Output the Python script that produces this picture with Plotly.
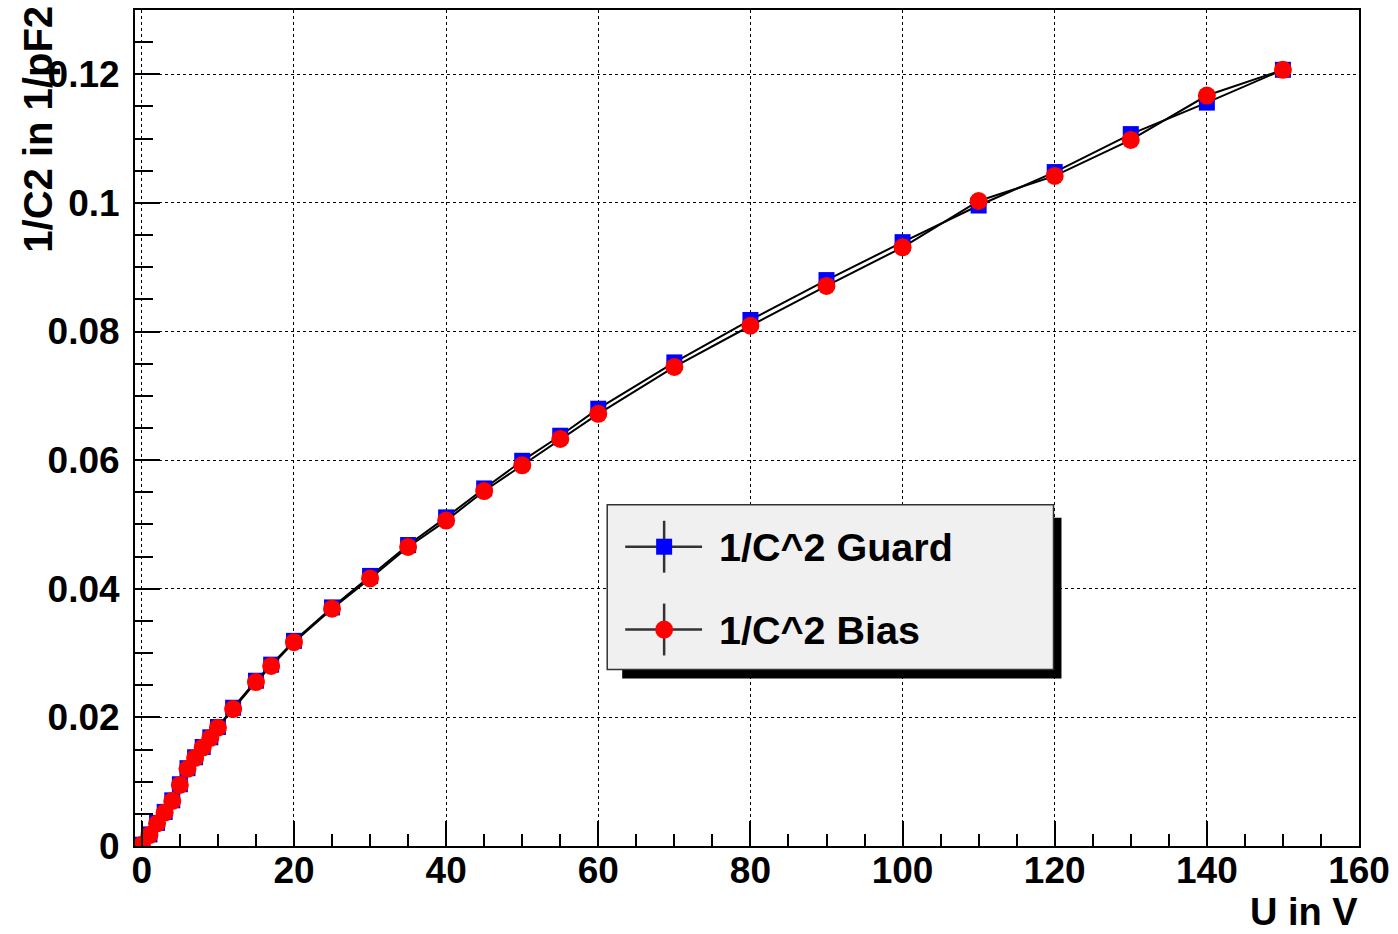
import plotly.graph_objects as go

# ---- data ----
voltage = [0, 1, 2, 3, 4, 5, 6, 7, 8, 9, 10, 12, 15, 17, 20, 25, 30, 35, 40, 45,
           50, 55, 60, 70, 80, 90, 100, 110, 120, 130, 140, 150]
guard = [0.0002, 0.0018, 0.0036, 0.0053, 0.0071, 0.0096, 0.0121, 0.0138, 0.0154,
         0.0169, 0.0185, 0.0215, 0.0257, 0.0282, 0.0319, 0.0371, 0.0420, 0.0468,
         0.0511, 0.0556, 0.0599, 0.0638, 0.0680, 0.0752, 0.0818, 0.0880, 0.0939,
         0.0996, 0.1048, 0.1107, 0.1156, 0.1207]
bias = [0.0002, 0.0017, 0.0035, 0.0052, 0.0070, 0.0095, 0.0120, 0.0137, 0.0153,
        0.0168, 0.0184, 0.0213, 0.0255, 0.0280, 0.0317, 0.0369, 0.0416, 0.0465,
        0.0506, 0.0552, 0.0592, 0.0633, 0.0672, 0.0745, 0.0809, 0.0871, 0.0931,
        0.1003, 0.1042, 0.1098, 0.1167, 0.1207]
series_names = ["1/C^2 Guard", "1/C^2 Bias"]
x_title = "U in V"
y_title = "1/C2 in 1/pF2"

FONT = "Liberation Sans, Arial, Helvetica, sans-serif"
W, H = 1398, 934
L, R, T, B = 135, 37, 8, 88
PW, PH = W - L - R, H - T - B


def px(xp):
    return (xp - L) / PW


def py(yp):
    return (H - B - yp) / PH


fig = go.Figure()
fig.add_trace(go.Scatter(
    x=voltage, y=guard, name=series_names[0], mode="lines+markers",
    line=dict(color="black", width=2),
    marker=dict(symbol="square", size=16, color="#0000ff", line=dict(width=0)),
    showlegend=False))
fig.add_trace(go.Scatter(
    x=voltage, y=bias, name=series_names[1], mode="lines+markers",
    line=dict(color="black", width=2),
    marker=dict(symbol="circle", size=18, color="#ff0000", line=dict(width=0)),
    showlegend=False))

tickfont = dict(family=FONT, size=37, color="black", weight="bold")

fig.update_xaxes(
    range=[-0.9, 160], tickmode="linear", tick0=0, dtick=20,
    ticks="inside", ticklen=25, tickwidth=1.5, tickcolor="black",
    minor=dict(dtick=5, ticks="inside", ticklen=12, tickwidth=1.5, tickcolor="black", showgrid=False),
    showgrid=True, gridcolor="black", griddash="dot", gridwidth=1.3,
    zeroline=False, showline=True, linecolor="black", linewidth=2, mirror=True,
    tickfont=tickfont, ticklabelstandoff=-9)
fig.update_yaxes(
    range=[0, 0.13], tickmode="linear", tick0=0, dtick=0.02,
    tickformat="~g",
    ticks="inside", ticklen=25, tickwidth=1.5, tickcolor="black",
    minor=dict(dtick=0.005, ticks="inside", ticklen=18, tickwidth=1.5, tickcolor="black", showgrid=False),
    showgrid=True, gridcolor="black", griddash="dot", gridwidth=1.3,
    zeroline=False, showline=True, linecolor="black", linewidth=2, mirror=True,
    tickfont=tickfont, ticklabelstandoff=6)

shapes = []
annotations = []
# legend shadow and box
shapes.append(dict(type="rect", xref="paper", yref="paper",
                   x0=px(623), x1=px(1063), y0=py(517), y1=py(678),
                   fillcolor="black", line=dict(width=0), layer="above"))
shapes.append(dict(type="rect", xref="paper", yref="paper",
                   x0=px(608), x1=px(1055), y0=py(504), y1=py(669),
                   fillcolor="#f0f0f0", line=dict(color="#333333", width=1.5), layer="above"))
entry_y = [546, 629]
symbols = [("rect", "#0000ff", 16), ("circle", "#ff0000", 18)]
for name, ey, (stype, col, sz) in zip(series_names, entry_y, symbols):
    shapes.append(dict(type="line", xref="paper", yref="paper",
                       x0=px(626), x1=px(703), y0=py(ey), y1=py(ey),
                       line=dict(color="#333333", width=2.5), layer="above"))
    shapes.append(dict(type="line", xref="paper", yref="paper",
                       x0=px(665), x1=px(665), y0=py(ey - 26), y1=py(ey + 26),
                       line=dict(color="#333333", width=2.5), layer="above"))
    shapes.append(dict(type=stype, xref="paper", yref="paper",
                       xsizemode="pixel", ysizemode="pixel",
                       xanchor=px(665), yanchor=py(ey),
                       x0=-sz / 2, x1=sz / 2, y0=-sz / 2, y1=sz / 2,
                       fillcolor=col, line=dict(width=0), layer="above"))
    annotations.append(dict(text=name, xref="paper", yref="paper",
                            x=px(718), y=py(ey), xanchor="left", yanchor="middle",
                            showarrow=False,
                            font=dict(family=FONT, size=39.5, color="black", weight="bold")))

# axis titles
annotations.append(dict(text=x_title, xref="paper", yref="paper",
                        x=px(1362), y=py(912), xanchor="right", yanchor="middle",
                        showarrow=False,
                        font=dict(family=FONT, size=38, color="black", weight="bold")))
annotations.append(dict(text=y_title, xref="paper", yref="paper",
                        x=px(37), y=py(2), xanchor="center", yanchor="top",
                        textangle=-90, showarrow=False,
                        font=dict(family=FONT, size=40, color="black", weight="bold")))

fig.update_layout(
    width=W, height=H, margin=dict(l=L, r=R, t=T, b=B),
    paper_bgcolor="white", plot_bgcolor="white",
    shapes=shapes, annotations=annotations, showlegend=False,
    font=dict(family=FONT, color="black"))

fig.write_html("out.html")
